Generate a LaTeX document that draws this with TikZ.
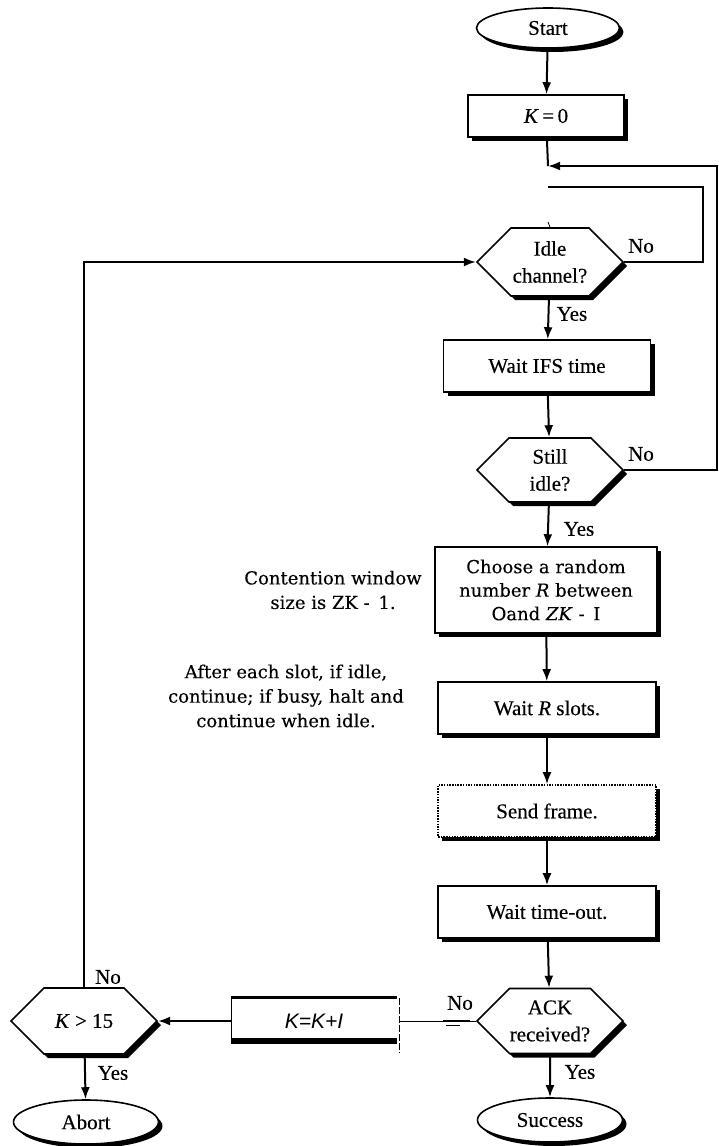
\documentclass[tikz,border=0pt]{standalone}
\usepackage{fontspec}
\setmainfont{Liberation Serif}[FakeBold=0.35]
\newfontfamily\notefont{DejaVu Serif}[FakeBold=0.3]
\newfontfamily\formulafont{Liberation Sans}
\usetikzlibrary{shapes.geometric,shapes.symbols,shadows,arrows.meta}
\begin{document}
\begin{tikzpicture}[x=1pt,y=-1pt,
  every node/.style={font=\fontsize{21}{27}\selectfont},
  boxshadow/.style={drop shadow={shadow xshift=4pt,shadow yshift=-4pt,opacity=1,fill=black}},
  terminal/.style={ellipse,draw,line width=1.6pt,fill=white,boxshadow,
    minimum width=143pt,minimum height=40pt,inner sep=0pt},
  process/.style={rectangle,draw,line width=1.6pt,fill=white,boxshadow,
    minimum width=218pt,minimum height=52pt,inner sep=0pt,align=center},
  decision/.style={signal,signal to=west and east,signal pointer angle=90,draw,
    line width=1.6pt,fill=white,boxshadow,minimum width=146pt,minimum height=66pt,
    inner sep=0pt,align=center},
  flow/.style={line width=2pt,-{Latex[length=12pt,width=9pt]}},
  wire/.style={line width=2pt},
  lbl/.style={inner sep=0pt},
  note/.style={font=\notefont\fontsize{18}{24.5}\selectfont,align=center,inner sep=0pt}
]
\useasboundingbox (0,0) rectangle (719,1146);

% main column
\node[terminal] (start) at (548,28) {Start};
\node[process,minimum width=156pt,minimum height=42pt] (k0) at (546,116) {\textit{K}\,=\,0};
\node[decision,minimum height=68pt] (idle) at (550,262) {Idle\\channel?};
\node[process,minimum width=207pt] (ifs) at (547,366) {Wait IFS time};
\node[decision,minimum height=64pt] (still) at (550,470) {Still\\idle?};
\node[process,minimum width=222pt,minimum height=86pt,
  font=\notefont\fontsize{18}{23.5}\selectfont] (choose) at (546,590)
  {Choose a random\\number \textit{R} between\\Oand \textit{ZK} -\, I};
\node[process] (waitr) at (547,708) {Wait \textit{R} slots.};
\node[process,dash pattern=on 1.5pt off 1.2pt] (send) at (547,811) {Send frame.};
\node[process] (wto) at (547,912) {Wait time-out.};
\node[decision,minimum height=65pt] (ack) at (550,1021) {ACK\\received?};
\node[terminal,minimum width=145pt,minimum height=44pt] (succ) at (550,1120) {Success};

% retry branch
\node[minimum width=165pt,minimum height=46pt,inner sep=0pt,
  font=\formulafont\itshape\fontsize{21}{25}\selectfont] (kinc) at (314,1021) {K=K+I};
\node[decision] (kgt) at (84,1021) {\textit{K} > 15};
\node[terminal,minimum width=145pt,minimum height=44pt] (abort) at (86,1122) {Abort};

% side notes
\node[note] (cw) at (333,590) {Contention window\\size is ZK -\, 1.};
\node[note] (slot) at (286,696) {After each slot, if idle,\\continue; if busy, halt and\\continue when idle.};

% the K=K+I box outline
\draw[line width=1pt] (kinc.north west) -- (kinc.south west);
\draw[line width=3pt] (kinc.north west) -- (kinc.north east);
\draw[line width=6pt] ([yshift=3pt]kinc.south west) -- ([yshift=3pt]kinc.south east);
\draw[line width=1pt,dash pattern=on 7pt off 2pt] ([xshift=3pt]kinc.north east) -- ([xshift=3pt,yshift=-8pt]kinc.south east);

% junction points of the loops
\coordinate (j1) at (548,166);
\coordinate (e1) at (717,166);
\coordinate (j2) at (548,187);
\coordinate (c2) at (703,187);
\coordinate (j3) at (548,222);

% main flow
\draw[flow] (start) -- (k0);
\draw[wire] (k0) -- (j1);
\draw[flow] (still.east) -| (e1) -- (j1);
\draw[wire] (idle.east) -| (c2) -- (j2);
\draw[line width=0.8pt] (j3) -- (idle.north);
\draw[flow] (idle) -- (ifs);
\draw[flow] (ifs) -- (still);
\draw[flow] (still) -- (choose);
\draw[flow] (choose) -- (waitr);
\draw[flow] (waitr) -- (send);
\draw[flow] (send) -- (wto);
\draw[flow] (wto) -- (ack);
\draw[flow] (ack) -- (succ);

% failure path
\draw[line width=1pt] (ack.west) -- ([xshift=3pt]kinc.east);
\draw[line width=2.5pt] ([xshift=-33pt]ack.west) -- ([xshift=-6pt]ack.west);
\draw[line width=1pt] ([xshift=-30pt,yshift=-4pt]ack.west) -- ([xshift=-16pt,yshift=-4pt]ack.west);
\draw[flow] (kinc.west) -- (kgt.east);
\draw[flow] (kgt) -- (abort);
\draw[flow] (kgt.north) |- (idle.west);

% branch labels
\node[lbl] at (641,246) {No};
\node[lbl] at (572,314) {Yes};
\node[lbl] at (641,454) {No};
\node[lbl] at (579,529) {Yes};
\node[lbl] at (460,1003) {No};
\node[lbl] at (580,1072) {Yes};
\node[lbl] at (108,977) {No};
\node[lbl] at (113,1073) {Yes};
\end{tikzpicture}
\end{document}
